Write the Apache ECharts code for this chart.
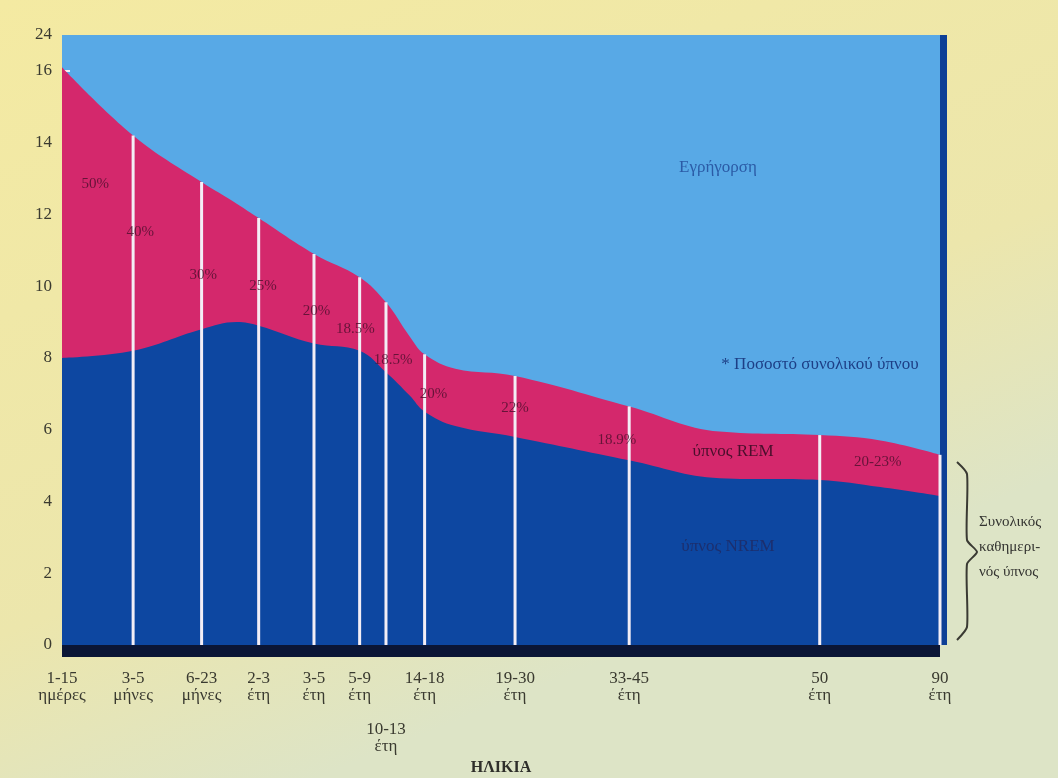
<!DOCTYPE html>
<html>
<head>
<meta charset="utf-8">
<script src="https://cdn.jsdelivr.net/npm/echarts@6/dist/echarts.min.js"></script>
<style>
  html, body { margin: 0; padding: 0; }
  #chart { width: 1058px; height: 778px; }
</style>
</head>
<body>
<div id="chart"></div>
<script>
// ηλικίες (θέσεις στον άξονα, 0-100, όπως στο σχέδιο)
const ageLabels = ['1-15\nημέρες', '3-5\nμήνες', '6-23\nμήνες', '2-3\nέτη', '3-5\nέτη', '5-9\nέτη',
                   '\n\n\n10-13\nέτη', '14-18\nέτη', '19-30\nέτη', '33-45\nέτη', '50\nέτη', '90\nέτη'];
const agePos = [0, 8.1, 15.9, 22.4, 28.7, 33.9, 36.9, 41.3, 51.6, 64.6, 86.3, 100];

// καμπύλες: συνολικός ύπνος και NREM (ώρες)
const curvePos   = [0, 8.1, 15.9, 19.9, 22.4, 28.7, 33.9, 36.9, 39.6, 41.3, 44.8, 51.6, 64.6, 74.9, 86.3, 93.2, 100];
const totalSleep = [16.1, 14.2, 12.9, 12.3, 11.9, 10.9, 10.25, 9.55, 8.6, 8.1, 7.7, 7.5, 6.65, 5.95, 5.85, 5.7, 5.3];
const nremSleep  = [8.0, 8.2, 8.8, 9.0, 8.9, 8.4, 8.2, 7.6, 6.95, 6.5, 6.1, 5.8, 5.15, 4.65, 4.6, 4.4, 4.15];

// ποσοστά REM
const remPct = ['50%', '40%', '30%', '25%', '20%', '18.5%', '18.5%', '20%', '22%', '18.9%', '20-23%'];
const remLabelX = [3.8, 8.9, 16.1, 22.9, 29.0, 33.4, 37.7, 42.3, 51.6, 63.2, 92.9];
const remLabelY = [12.85, 11.5, 10.3, 10.0, 9.3, 8.8, 7.95, 7.0, 6.6, 5.7, 5.1];

// άξονας y
const yLabelVals = [0, 2, 4, 6, 8, 10, 12, 14, 16, 17];
const yTickVals = [1, 2, 3, 4, 5, 6, 7, 8, 9, 10, 11, 12, 13, 14, 15, 16];

const serif = '"Liberation Serif", "DejaVu Serif", serif';

let myChart = echarts.init(document.getElementById('chart'));

function totalAt(p) {
    let i = curvePos.indexOf(p);
    return totalSleep[i];
}

let totalData = curvePos.map((p, i) => [p, totalSleep[i]]);
let nremData = curvePos.map((p, i) => [p, nremSleep[i]]);
let lineData = agePos.slice(1).map(p => [p, totalAt(p)]);
let pctData = remLabelX.map((x, i) => [x, remLabelY[i]]);

let option = {
    backgroundColor: {
        type: 'linear', x: 0, y: 0, x2: 0.3, y2: 1,
        colorStops: [
            {offset: 0, color: '#f4eaa2'},
            {offset: 0.7, color: '#ece6ac'},
            {offset: 1, color: '#dde4c6'}
        ]
    },
    grid: {
        left: 62, right: 118, top: 35, bottom: 133,
        outerBoundsMode: 'none', containLabel: false,
        show: true, backgroundColor: '#58a9e6', borderWidth: 0
    },
    xAxis: {
        type: 'value', min: 0, max: 100, offset: 6,
        axisLine: {show: true, onZero: false, lineStyle: {color: '#0b1636', width: 12, cap: 'butt'}},
        axisTick: {show: false},
        splitLine: {show: false},
        axisLabel: {
            customValues: agePos,
            formatter: function (v) {
                return ageLabels[agePos.indexOf(v)];
            },
            margin: 19,
            fontFamily: serif, fontSize: 17, lineHeight: 17, color: '#3a3a30'
        },
        name: 'ΗΛΙΚΙΑ',
        nameLocation: 'middle',
        nameGap: 108,
        nameTextStyle: {fontFamily: serif, fontSize: 16, fontWeight: 'bold', color: '#2e2e2a'}
    },
    yAxis: [{
        type: 'value', min: 0, max: 17,
        axisLine: {show: false},
        splitLine: {show: false},
        axisTick: {
            show: true, inside: true, length: 8,
            customValues: yTickVals,
            lineStyle: {color: '#f4eef4', width: 2}
        },
        axisLabel: {
            customValues: yLabelVals,
            formatter: function (v) { return v === 17 ? '24' : String(v); },
            margin: 10,
            fontFamily: serif, fontSize: 17, color: '#3a3a30'
        }
    }, {
        type: 'value', min: 0, max: 17, position: 'right', offset: 3,
        axisLine: {show: true, onZero: false, lineStyle: {color: '#0d3f96', width: 7, cap: 'butt'}},
        axisTick: {show: false}, axisLabel: {show: false}, splitLine: {show: false}
    }],
    series: [
        {
            name: 'ύπνος REM',
            type: 'line', data: totalData,
            smooth: 0.4, symbol: 'none',
            lineStyle: {width: 0},
            areaStyle: {color: '#d4286c', opacity: 1},
            z: 2
        },
        {
            name: 'ύπνος NREM',
            type: 'line', data: nremData,
            smooth: 0.4, symbol: 'none',
            lineStyle: {width: 0},
            areaStyle: {color: '#0d47a1', opacity: 1},
            z: 3
        },
        {
            name: 'ηλικίες',
            type: 'bar', data: lineData,
            barWidth: 3,
            itemStyle: {color: '#f3eef6'},
            z: 4
        },
        {
            name: 'ποσοστά',
            type: 'scatter', data: pctData,
            symbolSize: 0, itemStyle: {color: 'rgba(0,0,0,0)'},
            label: {
                show: true, position: 'inside',
                formatter: function (p) { return remPct[p.dataIndex]; },
                fontFamily: serif, fontSize: 15, color: '#4a0f2c'
            },
            z: 5
        }
    ],
    graphic: [
        {type: 'text', x: 718, y: 168, z: 10,
            style: {text: 'Εγρήγορση', font: '17px ' + serif, fill: '#2b5ba6', align: 'center', verticalAlign: 'middle'}},
        {type: 'text', x: 820, y: 365, z: 10,
            style: {text: '* Ποσοστό συνολικού ύπνου', font: '17px ' + serif, fill: '#1d3f86', align: 'center', verticalAlign: 'middle'}},
        {type: 'text', x: 733, y: 452, z: 10,
            style: {text: 'ύπνος REM', font: '17px ' + serif, fill: '#4a0f2c', align: 'center', verticalAlign: 'middle'}},
        {type: 'text', x: 728, y: 547, z: 10,
            style: {text: 'ύπνος NREM', font: '17px ' + serif, fill: '#1c2f6e', align: 'center', verticalAlign: 'middle'}},
        {type: 'polyline', z: 10,
            shape: {points: [[957, 462], [967, 474], [967, 540], [977, 552], [967, 564], [967, 627], [957, 640]], smooth: 0.2},
            style: {stroke: '#3a3a33', lineWidth: 2, fill: null}},
        {type: 'text', x: 979, y: 510, z: 10,
            style: {text: 'Συνολικός\nκαθημερι-\nνός ύπνος', font: '15px ' + serif, lineHeight: 25, fill: '#333330'}}
    ]
};

myChart.setOption(option);
</script>
</body>
</html>
